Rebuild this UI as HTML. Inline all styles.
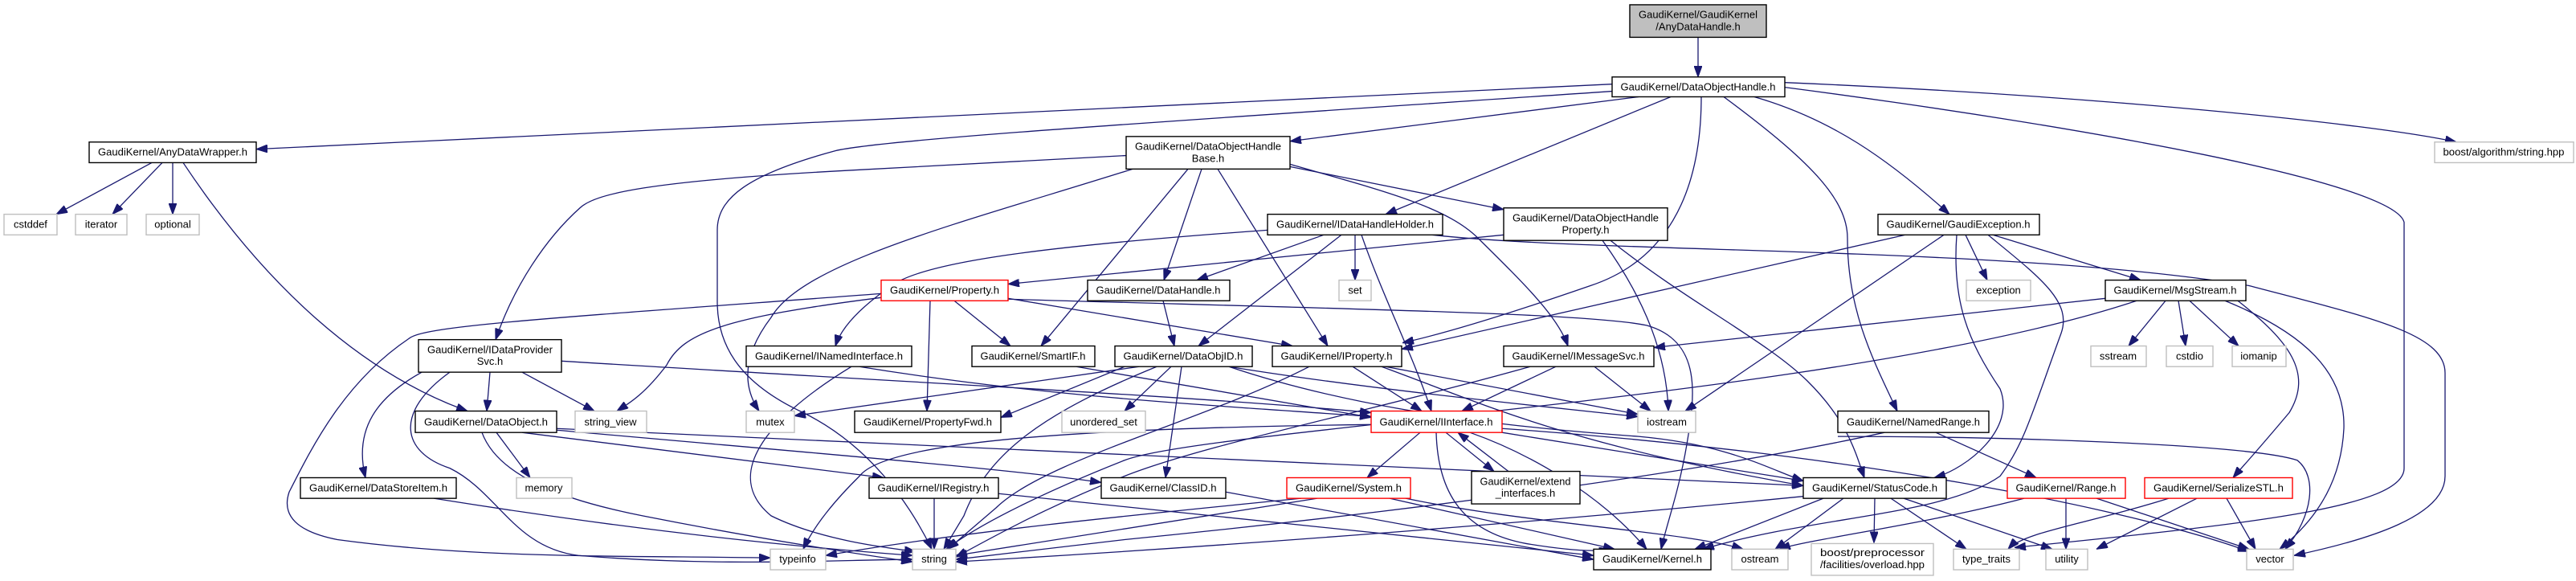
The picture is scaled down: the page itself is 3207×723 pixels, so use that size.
<!DOCTYPE html>
<html><head><meta charset="utf-8"><style>
html,body{margin:0;padding:0;background:#fff;}
svg{display:block;}
text{font-family:"Liberation Sans",sans-serif;font-size:13px;fill:#000;text-anchor:middle;}
.e{fill:none;stroke:#191970;stroke-width:1.3;marker-end:url(#a);}
.b{fill:#fff;stroke:#000;stroke-width:1.4;}
.g{fill:#fff;stroke:#bfbfbf;stroke-width:1.4;}
.r{fill:#fff;stroke:#ff0000;stroke-width:1.4;}
</style></head><body>
<svg width="3207" height="723" viewBox="0 0 3207 723" xmlns="http://www.w3.org/2000/svg">
<defs><marker id="a" markerUnits="userSpaceOnUse" markerWidth="14" markerHeight="10" refX="14" refY="5" orient="auto"><path d="M0,0 L14,5 L0,10 z" fill="#191970" stroke="#191970"/></marker></defs>
<g transform="scale(1,0.9875)">
<!-- edges -->
<path class="e" d="M189,205 L70,270"/>
<path class="e" d="M202,205 L140,270"/>
<path class="e" d="M215,205 L215,270"/>
<path class="e" d="M228,205 C330,360 450,470 582,518"/>
<path class="e" d="M2114,47 L2114,97"/>
<path class="e" d="M2007,106 L319,188"/>
<path class="e" d="M2222,104 C2600,120 2950,155 3058,179"/>
<path class="e" d="M2222,110 C2600,160 2980,230 2993,280 L2993,590 C2993,640 2800,660 2508,690"/>
<path class="e" d="M2040,122 L1606,178"/>
<path class="e" d="M2080,122 L1725,270"/>
<path class="e" d="M2118,122 C2118,250 2070,330 1980,360 C1880,395 1800,420 1746,432"/>
<path class="e" d="M2184,122 C2280,150 2350,200 2427,270"/>
<path class="e" d="M2146,122 C2250,200 2300,250 2300,300 C2300,390 2330,450 2362,518"/>
<path class="e" d="M2007,115 C1500,150 1100,175 1040,190 C930,220 893,250 893,290 L893,380 C893,430 915,480 1000,520 C1080,560 1130,630 1160,692"/>
<path class="e" d="M1402,196 L1070,214 C800,228 740,245 722,262 C680,300 640,360 617,428"/>
<path class="e" d="M1410,213 C1200,280 1000,330 960,400 C930,440 920,480 945,518"/>
<path class="e" d="M1479,213 L1296,436"/>
<path class="e" d="M1496,213 L1449,353"/>
<path class="e" d="M1516,213 L1653,436"/>
<path class="e" d="M1606,210 L1872,264"/>
<path class="e" d="M1606,207 C1720,240 1800,260 1840,300 C1900,360 1940,400 1952,436"/>
<path class="e" d="M1578,290 C1300,310 1150,330 1110,360 C1060,395 1045,420 1040,436"/>
<path class="e" d="M1648,296 L1490,353"/>
<path class="e" d="M1687,296 L1687,353"/>
<path class="e" d="M1670,296 L1492,436"/>
<path class="e" d="M1695,296 C1720,370 1760,450 1782,518"/>
<path class="e" d="M1783,296 C2000,320 2500,310 2800,360 C2950,400 3044,420 3044,470 L3044,600 C3044,650 2950,680 2856,700"/>
<path class="e" d="M1872,296 L1255,358"/>
<path class="e" d="M1995,303 C2050,380 2075,450 2077,518"/>
<path class="e" d="M2005,303 C2100,380 2200,430 2250,480 C2300,530 2310,570 2321,602"/>
<path class="e" d="M2447,296 L2474,353"/>
<path class="e" d="M2481,296 L2665,353"/>
<path class="e" d="M2436,296 C2430,380 2450,430 2490,490 C2510,540 2450,590 2408,602"/>
<path class="e" d="M2420,296 L2098,518"/>
<path class="e" d="M2475,296 C2540,350 2580,380 2566,420 C2530,520 2520,560 2490,600 C2420,650 2260,650 2120,692"/>
<path class="e" d="M2372,296 L1745,440"/>
<path class="e" d="M2696,379 L2650,436"/>
<path class="e" d="M2712,379 L2721,436"/>
<path class="e" d="M2726,379 L2787,436"/>
<path class="e" d="M2621,376 L2059,438"/>
<path class="e" d="M2660,379 C2300,500 1500,540 1400,580 C1300,620 1220,660 1178,692"/>
<path class="e" d="M2786,379 C2850,430 2880,470 2850,520 C2800,580 2790,590 2780,602"/>
<path class="e" d="M2770,379 C2870,420 2920,470 2918,540 C2915,600 2890,650 2838,692"/>
<path class="e" d="M1188,379 L1258,436"/>
<path class="e" d="M1158,379 L1154,518"/>
<path class="e" d="M1255,376 L1609,436"/>
<path class="e" d="M1097,375 C900,400 850,420 830,460 C800,500 780,510 768,518"/>
<path class="e" d="M1097,370 C700,400 530,410 510,426 C430,480 390,560 360,620 C350,650 370,670 420,680 C600,705 800,700 959,703"/>
<path class="e" d="M1255,377 C1700,390 1980,395 2050,410 C2120,430 2110,500 2100,560 C2090,620 2075,660 2068,692"/>
<path class="e" d="M1448,379 L1462,436"/>
<path class="e" d="M1070,462 C1300,500 1500,510 1707,525"/>
<path class="e" d="M1060,462 C950,530 900,600 960,650 C1020,680 1100,690 1140,695"/>
<path class="e" d="M610,469 L606,518"/>
<path class="e" d="M650,469 L740,518"/>
<path class="e" d="M525,469 C470,500 440,540 455,602"/>
<path class="e" d="M560,469 C490,520 500,570 560,590 C620,620 640,690 720,700 C900,715 1050,705 1136,705"/>
<path class="e" d="M699,455 C1100,480 1500,500 1707,520"/>
<path class="e" d="M1340,462 L1707,526"/>
<path class="e" d="M1471,462 L1451,602"/>
<path class="e" d="M1458,462 L1400,518"/>
<path class="e" d="M1440,462 C1300,520 1230,570 1200,650 L1175,692"/>
<path class="e" d="M1418,462 L989,524"/>
<path class="e" d="M1530,462 C1700,490 1900,510 2039,525"/>
<path class="e" d="M1530,462 C1700,520 1900,540 2040,550 C2150,560 2200,590 2245,606"/>
<path class="e" d="M1400,462 L1246,526"/>
<path class="e" d="M1684,462 L1770,518"/>
<path class="e" d="M1630,462 C1500,530 1300,580 1240,640 L1180,692"/>
<path class="e" d="M1725,462 L2039,522"/>
<path class="e" d="M1720,462 C1850,510 1950,560 2245,612"/>
<path class="e" d="M1937,462 L1820,518"/>
<path class="e" d="M1985,462 L2055,518"/>
<path class="e" d="M1905,462 C1700,520 1500,560 1400,600 C1300,640 1230,680 1190,702"/>
<path class="e" d="M618,545 L660,602"/>
<path class="e" d="M693,542 C1000,570 1250,590 1371,608"/>
<path class="e" d="M693,540 L2245,612"/>
<path class="e" d="M600,545 C620,600 700,630 800,650 C950,680 1080,700 1136,708"/>
<path class="e" d="M650,545 L1100,602"/>
<path class="e" d="M2410,545 L2535,602"/>
<path class="e" d="M2346,545 C2100,600 1700,650 1400,680 L1190,705"/>
<path class="e" d="M2288,550 C2500,550 2800,560 2860,580 C2885,600 2880,650 2845,692"/>
<path class="e" d="M1768,545 L1702,602"/>
<path class="e" d="M1800,545 L1860,594"/>
<path class="e" d="M1878,594 L1815,545"/>
<path class="e" d="M1788,545 C1790,620 1820,670 1900,685 C1960,695 1990,695 2005,692"/>
<path class="e" d="M1830,545 C1900,570 1990,620 2050,692"/>
<path class="e" d="M1870,545 L2245,606"/>
<path class="e" d="M1707,535 C1300,540 1100,560 1070,600 C1030,640 1010,670 1000,692"/>
<path class="e" d="M1870,540 C2300,570 2650,640 2800,695"/>
<path class="e" d="M1640,628 L1190,700"/>
<path class="e" d="M1620,628 C1400,650 1200,670 1028,700"/>
<path class="e" d="M1730,628 L2010,692"/>
<path class="e" d="M1750,628 C1900,660 2100,670 2170,692"/>
<path class="e" d="M1163,628 L1163,692"/>
<path class="e" d="M1243,622 L1984,700"/>
<path class="e" d="M1526,620 L1984,705"/>
<path class="e" d="M540,628 C800,670 1000,690 1136,700"/>
<path class="e" d="M2295,628 L2210,692"/>
<path class="e" d="M2334,628 L2333,684"/>
<path class="e" d="M2354,628 L2448,692"/>
<path class="e" d="M2370,628 L2555,692"/>
<path class="e" d="M2270,628 L2110,692"/>
<path class="e" d="M2250,625 C1900,660 1500,690 1190,708"/>
<path class="e" d="M2572,628 L2572,692"/>
<path class="e" d="M2610,628 L2800,692"/>
<path class="e" d="M2520,628 C2400,660 2250,680 2215,692"/>
<path class="e" d="M2735,628 L2610,692"/>
<path class="e" d="M2772,628 L2808,692"/>
<path class="e" d="M2700,628 C2600,660 2520,670 2500,692"/>

<!-- nodes -->
<rect x="2029" y="6" width="170" height="41" fill="#bfbfbf" stroke="#000" stroke-width="1.4"/>
<text x="2114" y="23" textLength="148" lengthAdjust="spacingAndGlyphs">GaudiKernel/GaudiKernel</text>
<text x="2114" y="38">/AnyDataHandle.h</text>

<rect class="b" x="2007" y="97" width="215" height="25"/><text x="2114" y="114" textLength="193" lengthAdjust="spacingAndGlyphs">GaudiKernel/DataObjectHandle.h</text>
<rect class="b" x="111" y="179" width="208" height="26"/><text x="215" y="196" textLength="186" lengthAdjust="spacingAndGlyphs">GaudiKernel/AnyDataWrapper.h</text>
<rect class="g" x="3031" y="179" width="173" height="26"/><text x="3117" y="196" textLength="151" lengthAdjust="spacingAndGlyphs">boost/algorithm/string.hpp</text>
<rect class="b" x="1402" y="172" width="204" height="41"/><text x="1504" y="189" textLength="182" lengthAdjust="spacingAndGlyphs">GaudiKernel/DataObjectHandle</text><text x="1504" y="204">Base.h</text>
<rect class="b" x="1578" y="270" width="218" height="26"/><text x="1687" y="287" textLength="196" lengthAdjust="spacingAndGlyphs">GaudiKernel/IDataHandleHolder.h</text>
<rect class="b" x="1872" y="262" width="204" height="41"/><text x="1974" y="279" textLength="182" lengthAdjust="spacingAndGlyphs">GaudiKernel/DataObjectHandle</text><text x="1974" y="294">Property.h</text>
<rect class="b" x="2338" y="270" width="201" height="26"/><text x="2438" y="287" textLength="179" lengthAdjust="spacingAndGlyphs">GaudiKernel/GaudiException.h</text>
<rect class="g" x="5" y="270" width="66" height="26"/><text x="38" y="287">cstddef</text>
<rect class="g" x="94" y="270" width="64" height="26"/><text x="126" y="287">iterator</text>
<rect class="g" x="182" y="270" width="66" height="26"/><text x="215" y="287">optional</text>

<rect class="r" x="1097" y="353" width="158" height="26"/><text x="1176" y="370" textLength="136" lengthAdjust="spacingAndGlyphs">GaudiKernel/Property.h</text>
<rect class="b" x="1354" y="353" width="177" height="26"/><text x="1442" y="370" textLength="155" lengthAdjust="spacingAndGlyphs">GaudiKernel/DataHandle.h</text>
<rect class="g" x="1667" y="353" width="40" height="26"/><text x="1687" y="370">set</text>
<rect class="g" x="2448" y="353" width="80" height="26"/><text x="2488" y="370">exception</text>
<rect class="b" x="2621" y="353" width="175" height="26"/><text x="2708" y="370" textLength="153" lengthAdjust="spacingAndGlyphs">GaudiKernel/MsgStream.h</text>

<rect class="b" x="521" y="428" width="178" height="41"/><text x="610" y="445" textLength="156" lengthAdjust="spacingAndGlyphs">GaudiKernel/IDataProvider</text><text x="610" y="460">Svc.h</text>
<rect class="b" x="929" y="436" width="206" height="26"/><text x="1032" y="453" textLength="184" lengthAdjust="spacingAndGlyphs">GaudiKernel/INamedInterface.h</text>
<rect class="b" x="1210" y="436" width="153" height="26"/><text x="1286" y="453" textLength="131" lengthAdjust="spacingAndGlyphs">GaudiKernel/SmartIF.h</text>
<rect class="b" x="1388" y="436" width="171" height="26"/><text x="1473" y="453" textLength="149" lengthAdjust="spacingAndGlyphs">GaudiKernel/DataObjID.h</text>
<rect class="b" x="1584" y="436" width="161" height="26"/><text x="1664" y="453" textLength="139" lengthAdjust="spacingAndGlyphs">GaudiKernel/IProperty.h</text>
<rect class="b" x="1872" y="436" width="187" height="26"/><text x="1965" y="453" textLength="165" lengthAdjust="spacingAndGlyphs">GaudiKernel/IMessageSvc.h</text>
<rect class="g" x="2603" y="436" width="69" height="26"/><text x="2637" y="453">sstream</text>
<rect class="g" x="2697" y="436" width="58" height="26"/><text x="2726" y="453">cstdio</text>
<rect class="g" x="2779" y="436" width="67" height="26"/><text x="2812" y="453">iomanip</text>

<rect class="b" x="517" y="518" width="176" height="27"/><text x="605" y="536" textLength="154" lengthAdjust="spacingAndGlyphs">GaudiKernel/DataObject.h</text>
<rect class="g" x="716" y="518" width="89" height="27"/><text x="760" y="536">string_view</text>
<rect class="g" x="929" y="518" width="60" height="27"/><text x="959" y="536">mutex</text>
<rect class="b" x="1064" y="518" width="182" height="27"/><text x="1155" y="536" textLength="160" lengthAdjust="spacingAndGlyphs">GaudiKernel/PropertyFwd.h</text>
<rect class="g" x="1322" y="518" width="104" height="27"/><text x="1374" y="536">unordered_set</text>
<rect class="r" x="1707" y="518" width="163" height="27"/><text x="1788" y="536" textLength="141" lengthAdjust="spacingAndGlyphs">GaudiKernel/IInterface.h</text>
<rect class="g" x="2039" y="518" width="72" height="27"/><text x="2075" y="536">iostream</text>
<rect class="b" x="2288" y="518" width="188" height="27"/><text x="2382" y="536" textLength="166" lengthAdjust="spacingAndGlyphs">GaudiKernel/NamedRange.h</text>

<rect class="b" x="374" y="602" width="194" height="26"/><text x="471" y="619" textLength="172" lengthAdjust="spacingAndGlyphs">GaudiKernel/DataStoreItem.h</text>
<rect class="g" x="643" y="602" width="69" height="26"/><text x="677" y="619">memory</text>
<rect class="b" x="1082" y="602" width="161" height="26"/><text x="1162" y="619" textLength="139" lengthAdjust="spacingAndGlyphs">GaudiKernel/IRegistry.h</text>
<rect class="b" x="1371" y="602" width="155" height="26"/><text x="1448" y="619" textLength="133" lengthAdjust="spacingAndGlyphs">GaudiKernel/ClassID.h</text>
<rect class="r" x="1602" y="602" width="154" height="26"/><text x="1679" y="619" textLength="132" lengthAdjust="spacingAndGlyphs">GaudiKernel/System.h</text>
<rect class="b" x="1832" y="594" width="135" height="41"/><text x="1899" y="611" textLength="113" lengthAdjust="spacingAndGlyphs">GaudiKernel/extend</text><text x="1899" y="626">_interfaces.h</text>
<rect class="b" x="2245" y="602" width="178" height="26"/><text x="2334" y="619" textLength="156" lengthAdjust="spacingAndGlyphs">GaudiKernel/StatusCode.h</text>
<rect class="r" x="2499" y="602" width="147" height="26"/><text x="2572" y="619" textLength="125" lengthAdjust="spacingAndGlyphs">GaudiKernel/Range.h</text>
<rect class="r" x="2670" y="602" width="184" height="26"/><text x="2762" y="619" textLength="162" lengthAdjust="spacingAndGlyphs">GaudiKernel/SerializeSTL.h</text>

<rect class="g" x="959" y="692" width="69" height="26"/><text x="993" y="709">typeinfo</text>
<rect class="g" x="1136" y="692" width="54" height="26"/><text x="1163" y="709">string</text>
<rect class="b" x="1984" y="692" width="146" height="26"/><text x="2057" y="709" textLength="124" lengthAdjust="spacingAndGlyphs">GaudiKernel/Kernel.h</text>
<rect class="g" x="2156" y="692" width="70" height="26"/><text x="2191" y="709">ostream</text>
<rect class="g" x="2255" y="685" width="152" height="40"/><text x="2331" y="701" textLength="130" lengthAdjust="spacingAndGlyphs">boost/preprocessor</text><text x="2331" y="716" textLength="130" lengthAdjust="spacingAndGlyphs">/facilities/overload.hpp</text>
<rect class="g" x="2432" y="692" width="82" height="26"/><text x="2473" y="709">type_traits</text>
<rect class="g" x="2547" y="692" width="52" height="26"/><text x="2573" y="709">utility</text>
<rect class="g" x="2797" y="692" width="58" height="26"/><text x="2826" y="709">vector</text>
</g>
</svg>
</body></html>
